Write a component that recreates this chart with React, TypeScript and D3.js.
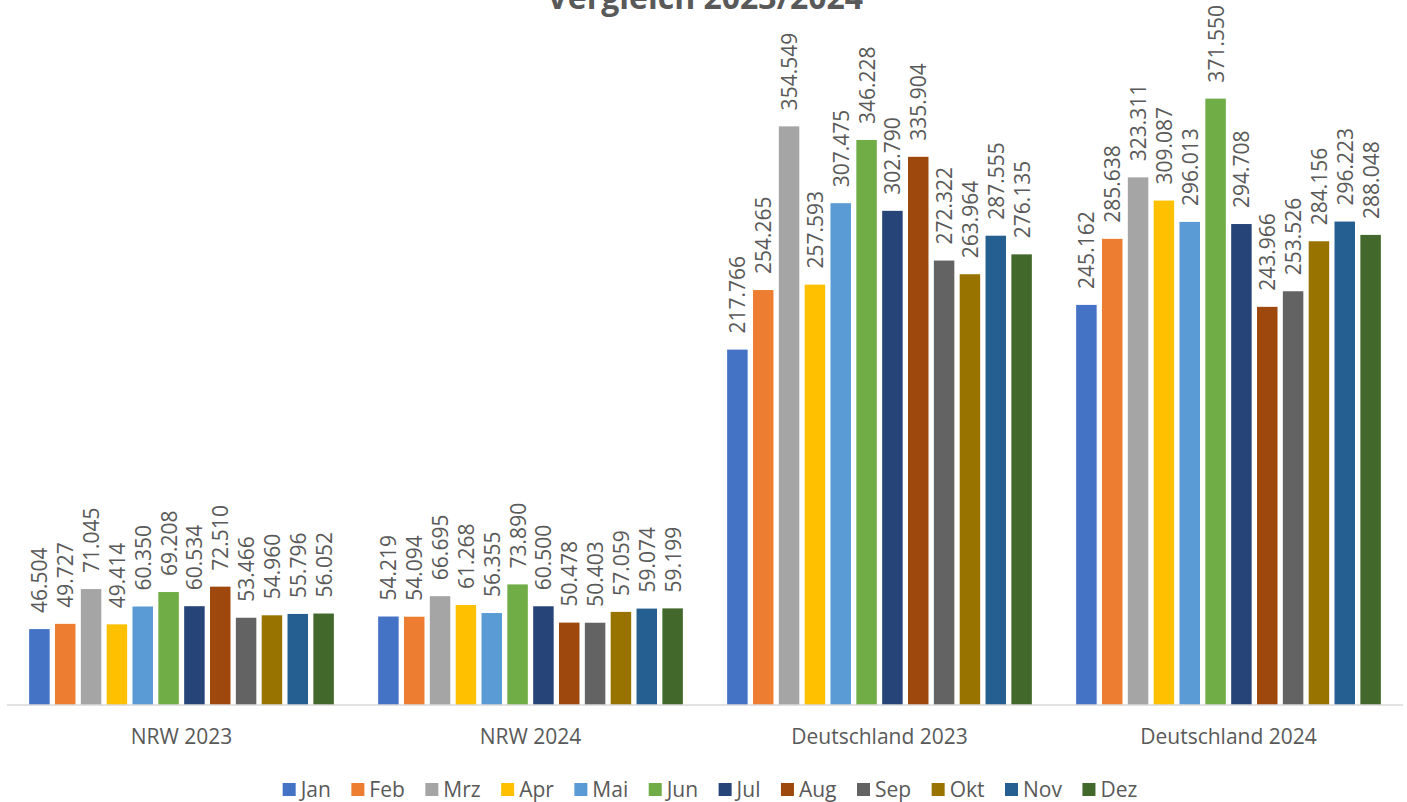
import {formatLocale, scaleBand, scaleLinear} from "d3";

const MONTHS = ["Jan", "Feb", "Mrz", "Apr", "Mai", "Jun", "Jul", "Aug", "Sep", "Okt", "Nov", "Dez"];
const GROUPS = ["NRW 2023", "NRW 2024", "Deutschland 2023", "Deutschland 2024"];

const NRW_2023 = [46504, 49727, 71045, 49414, 60350, 69208, 60534, 72510, 53466, 54960, 55796, 56052];
const NRW_2024 = [54219, 54094, 66695, 61268, 56355, 73890, 60500, 50478, 50403, 57059, 59074, 59199];
const DE_2023 = [217766, 254265, 354549, 257593, 307475, 346228, 302790, 335904, 272322, 263964, 287555, 276135];
const DE_2024 = [245162, 285638, 323311, 309087, 296013, 371550, 294708, 243966, 253526, 284156, 296223, 288048];

const SERIES_BY_GROUP = [NRW_2023, NRW_2024, DE_2023, DE_2024];

const COLORS = [
  "#4472C4",
  "#ED7D31",
  "#A5A5A5",
  "#FFC000",
  "#5B9BD5",
  "#70AD47",
  "#264478",
  "#9E480E",
  "#636363",
  "#997300",
  "#255E91",
  "#43682B"
];

// the first title line sits above the visible area in the original, only this one shows
const TITLE = "Vergleich 2023/2024";
const FONT = "'Open Sans', 'Liberation Sans', sans-serif";
const TEXT_COLOR = "#595959";

const de = formatLocale({decimal: ",", thousands: ".", grouping: [3], currency: ["", " €"]});
const fmt = de.format(",d");

let measureCtx: CanvasRenderingContext2D | null = null;
function textWidth(text: string, font: string) {
  if (!measureCtx) {
    measureCtx = document.createElement("canvas").getContext("2d");
  }
  if (!measureCtx) return text.length * 11;
  measureCtx.font = font;
  return measureCtx.measureText(text).width;
}

export default function App() {
  const width = 1407;
  const height = 802;
  const baseline = 705;
  const plotLeft = 7;
  const plotRight = 1403;

  const x = scaleBand<string>().domain(GROUPS).range([plotLeft, plotRight]).paddingInner(0).paddingOuter(0);
  const y = scaleLinear().domain([0, 400000]).range([baseline, baseline - 652.8]);

  const innerSpan = 304.7;
  const inner = scaleBand<string>()
    .domain(MONTHS)
    .range([-innerSpan / 2, innerSpan / 2])
    .paddingInner(0.207)
    .paddingOuter(0);

  // legend layout
  const legendFont = `21px ${FONT}`;
  const swatch = 13;
  const swatchGap = 5;
  const itemGap = 20.5;
  const itemWidths = MONTHS.map((m) => swatch + swatchGap + textWidth(m, legendFont));
  const legendTotal = itemWidths.reduce((a, b) => a + b, 0) + itemGap * (MONTHS.length - 1);
  let cursor = 710 - legendTotal / 2;
  const legendItems = MONTHS.map((m, i) => {
    const item = {month: m, x: cursor, color: COLORS[i]};
    cursor += itemWidths[i] + itemGap;
    return item;
  });

  return (
    <svg width={width} height={height} style={{position: "absolute", left: 0, top: 0, background: "#fff"}}>
      <text
        x={705}
        y={9}
        textAnchor="middle"
        fontFamily={FONT}
        fontWeight={700}
        fontSize={32}
        fill={TEXT_COLOR}
      >
        {TITLE}
      </text>

      {GROUPS.map((groupName, gi) => {
        const center = (x(groupName) ?? 0) + x.bandwidth() / 2;
        return (
          <g key={groupName} transform={`translate(${center},0)`}>
            {SERIES_BY_GROUP[gi].map((value, mi) => {
              const bx = inner(MONTHS[mi]) ?? 0;
              const top = y(value);
              const cx = bx + inner.bandwidth() / 2;
              return (
                <g key={MONTHS[mi]}>
                  <rect
                    x={bx}
                    y={top}
                    width={inner.bandwidth()}
                    height={baseline - top}
                    fill={COLORS[mi]}
                  />
                  <text
                    transform={`translate(${cx},${top - 16}) rotate(-90)`}
                    dominantBaseline="central"
                    fontFamily={FONT}
                    fontSize={21}
                    fill={TEXT_COLOR}
                  >
                    {fmt(value)}
                  </text>
                </g>
              );
            })}
            <text
              x={0}
              y={744}
              textAnchor="middle"
              fontFamily={FONT}
              fontSize={21}
              fill={TEXT_COLOR}
            >
              {groupName}
            </text>
          </g>
        );
      })}

      <line x1={plotLeft} x2={plotRight} y1={baseline} y2={baseline} stroke="#D9D9D9" strokeWidth={1.5} />

      {legendItems.map((item) => (
        <g key={item.month} transform={`translate(${item.x},0)`}>
          <rect x={0} y={783} width={swatch} height={swatch} fill={item.color} />
          <text
            x={swatch + swatchGap}
            y={797}
            fontFamily={FONT}
            fontSize={21}
            fill={TEXT_COLOR}
          >
            {item.month}
          </text>
        </g>
      ))}
    </svg>
  );
}
